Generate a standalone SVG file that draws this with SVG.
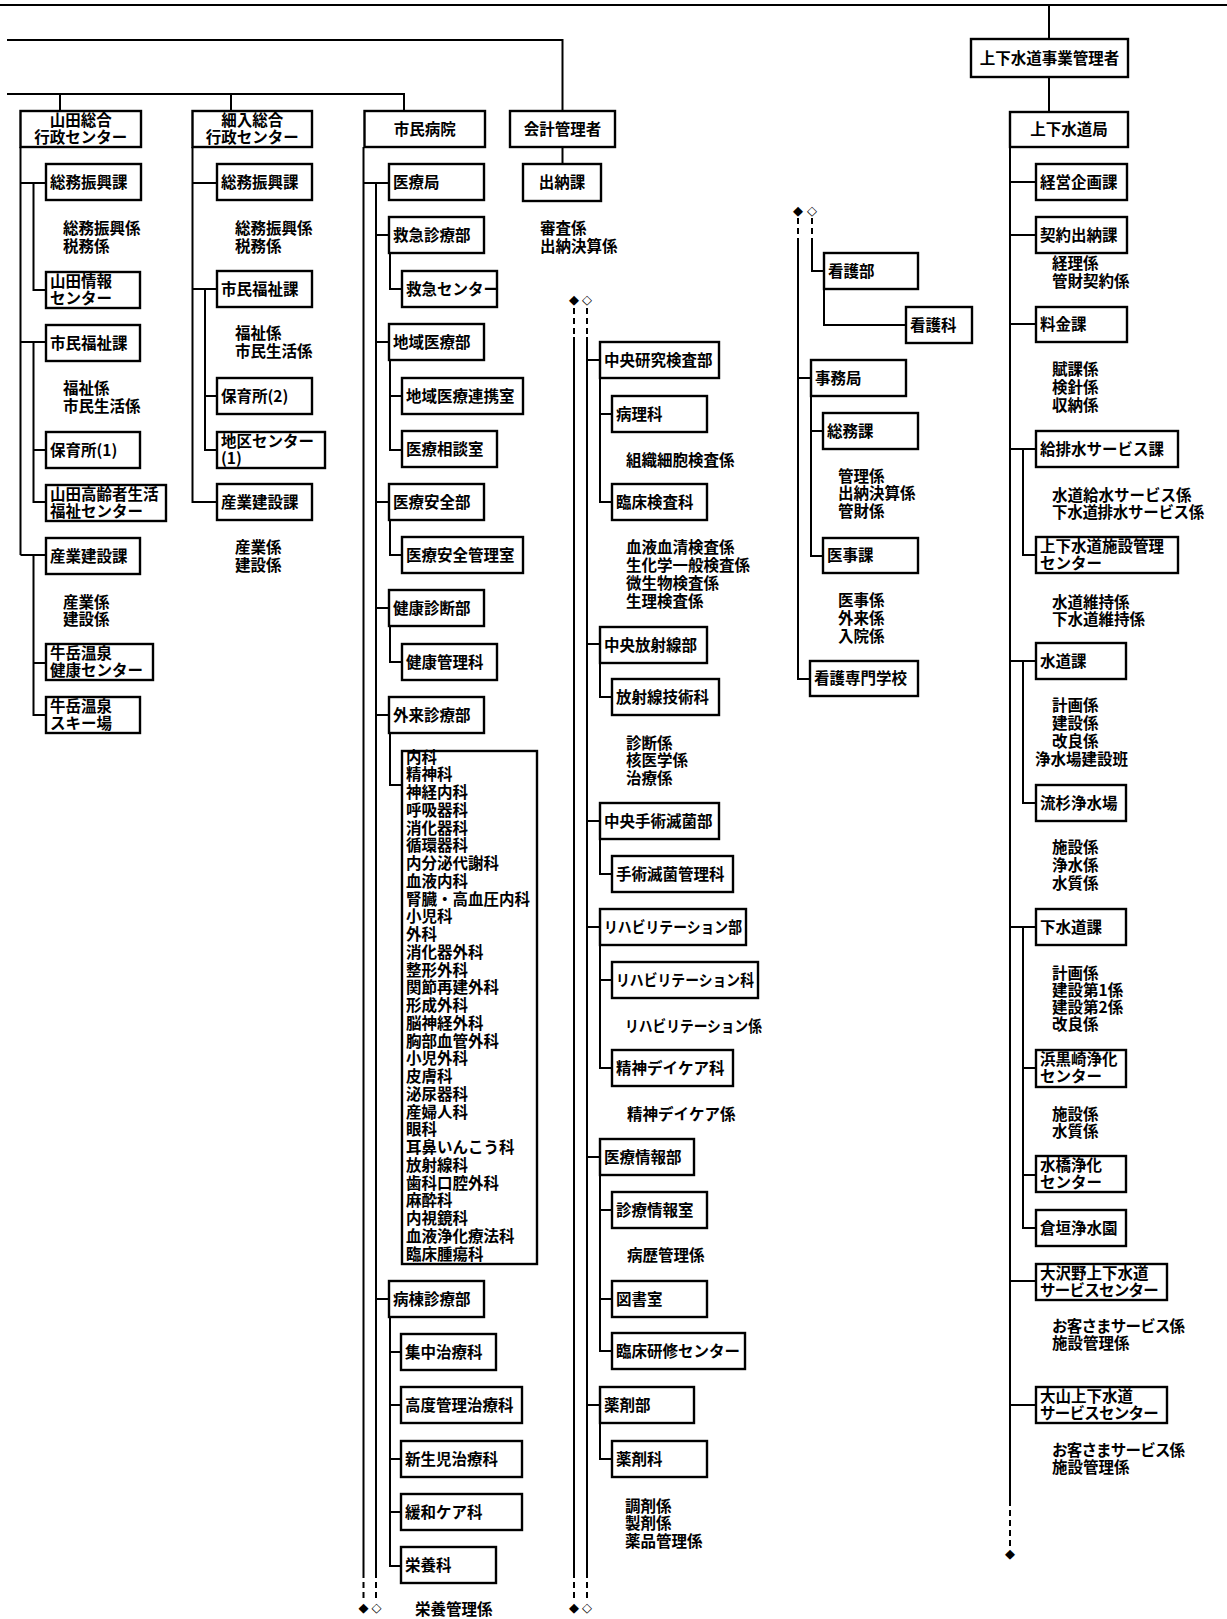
<svg xmlns="http://www.w3.org/2000/svg" width="1227" height="1619" viewBox="0 0 1227 1619">
<style>
.b{fill:#fff;stroke:#000;stroke-width:2.4}
.t{font-family:"Noto Sans CJK JP","Noto Sans CJK SC",sans-serif;font-size:15.5px;font-weight:700;fill:#000}
.c{text-anchor:middle}
.ln{stroke:#000;stroke-width:2;fill:none}
.d{stroke-dasharray:6 4}
.m{font-family:"DejaVu Sans",sans-serif;font-size:13px;text-anchor:middle;fill:#000}
.n1{letter-spacing:-0.8px}
.n2{letter-spacing:-0.75px}
</style>
<rect width="1227" height="1619" fill="#fff"/>
<g id="connectors">
<path class="ln" d="M0,5 H1227 M1049,5 V39 M1049,77 V112 M7,40 H562.5 V111 M562.5,147 V164 M7,94 H404 V111 M60,94 V111 M231,94 V111"/>
<path class="ln" d="M20.5,147 V555 M20.5,183 H46 M20.5,342 H46 M20.5,555 H46 M33.5,183 V290 H46 M33.5,342 V502 H46 M33.5,450 H46 M33.5,555 V715 H46 M33.5,663 H46"/>
<path class="ln" d="M192.5,147 V502 H217 M192.5,183 H217 M192.5,289 H217 M205,289 V450 H217 M205,396 H217"/>
<path class="ln" d="M363.5,147 V1572 M363.5,183 H389 M376,183 V1572 M376,235 H389 M376,342 H389 M376,502 H389 M376,608 H389 M376,715 H389 M376,1299 H389 M390,253 V289 H402 M390,360 V450 H402 M390,396 H402 M390,520 V555 H402 M390,627 V662 H402 M390,733 V785 H402 M390,1317 V1566 H401 M390,1352 H401 M390,1405 H401 M390,1459 H401 M390,1512 H401"/>
<path class="ln d" d="M363.5,1572 V1600 M376,1572 V1600"/>
<path class="ln d" d="M574,308 V337 M587,308 V337 M574,1572 V1600 M587,1572 V1600"/>
<path class="ln" d="M574,337 V1572 M587,337 V1572 M587,360 H600 M587,644 H600 M587,821 H600 M587,927 H600 M587,1157 H600 M587,1405 H600 M600,378 V502 H612 M600,414 H612 M600,663 V697 H612 M600,840 V874 H612 M600,945 V1068 H612 M600,980 H612 M600,1175 V1351 H612 M600,1210 H612 M600,1299 H612 M600,1423 V1459 H612"/>
<path class="ln d" d="M798,218 V240 M812,218 V240"/>
<path class="ln" d="M812,240 V271 H824 M824,289 V325 H906 M798,240 V679 H810 M798,378 H811 M811,396 V556 H823 M811,431 H823"/>
<path class="ln" d="M1010,147 V1500 M1010,182 H1036 M1010,235 H1036 M1010,324 H1036 M1010,449 H1036 M1010,661 H1036 M1010,927 H1036 M1010,1281 H1036 M1010,1405 H1036 M1023,449 V555 H1036 M1023,661 V803 H1036 M1023,927 V1228 H1036 M1023,1068 H1036 M1023,1175 H1036"/>
<path class="ln d" d="M1010,1500 V1546"/>
<text class="m" x="363.5" y="1612">◆</text><text class="m" x="376.5" y="1612">◇</text>
<text class="m" x="574" y="304">◆</text><text class="m" x="587" y="304">◇</text>
<text class="m" x="574" y="1612">◆</text><text class="m" x="587" y="1612">◇</text>
<text class="m" x="798" y="215">◆</text><text class="m" x="812" y="215">◇</text>
<text class="m" x="1010" y="1558">◆</text>
</g>

<g id="yamada">
<g id="ym-center"><rect class="b" x="20.5" y="111" width="120.5" height="36"/><text class="t c" x="80.75" y="125.5">山田総合<tspan x="80.75" dy="17">行政センター</tspan></text></g>
<g id="ym-soumu"><rect class="b" x="46" y="164" width="95" height="36"/><text class="t" x="50" y="187.5">総務振興課</text></g>
<g id="ym-joho"><rect class="b" x="46" y="272" width="94" height="36"/><text class="t" x="50" y="286.5">山田情報<tspan x="50" dy="17">センター</tspan></text></g>
<g id="ym-fukushi"><rect class="b" x="46" y="325" width="94" height="36"/><text class="t" x="50" y="348.5">市民福祉課</text></g>
<g id="ym-hoiku"><rect class="b" x="46" y="432" width="94" height="36"/><text class="t" x="50" y="455.5">保育所(1)</text></g>
<g id="ym-koreisha"><rect class="b" x="46" y="485" width="120" height="36"/><text class="t" x="50" y="499.5">山田高齢者生活<tspan x="50" dy="17">福祉センター</tspan></text></g>
<g id="ym-sangyo"><rect class="b" x="46" y="538" width="94" height="36"/><text class="t" x="50" y="561.5">産業建設課</text></g>
<g id="ym-gyugaku1"><rect class="b" x="46" y="644" width="107" height="36"/><text class="t" x="50" y="658.5">牛岳温泉<tspan x="50" dy="17">健康センター</tspan></text></g>
<g id="ym-gyugaku2"><rect class="b" x="46" y="697" width="94" height="36"/><text class="t" x="50" y="711.5">牛岳温泉<tspan x="50" dy="17">スキー場</tspan></text></g>
<text class="t" x="63" y="233.5">総務振興係<tspan x="63" dy="18">税務係</tspan></text>
<text class="t" x="63" y="393.5">福祉係<tspan x="63" dy="18">市民生活係</tspan></text>
<text class="t" x="63" y="607.5">産業係<tspan x="63" dy="17">建設係</tspan></text>
</g>

<g id="hosoiri">
<g id="hs-center"><rect class="b" x="192.5" y="111" width="119.5" height="36"/><text class="t c" x="252.25" y="125.5">細入総合<tspan x="252.25" dy="17">行政センター</tspan></text></g>
<g id="hs-soumu"><rect class="b" x="217" y="164" width="95" height="36"/><text class="t" x="221" y="187.5">総務振興課</text></g>
<g id="hs-fukushi"><rect class="b" x="217" y="271" width="95" height="36"/><text class="t" x="221" y="294.5">市民福祉課</text></g>
<g id="hs-hoiku"><rect class="b" x="217" y="378" width="95" height="36"/><text class="t" x="221" y="401.5">保育所(2)</text></g>
<g id="hs-chiku"><rect class="b" x="217" y="432" width="108" height="36"/><text class="t" x="221" y="446.5">地区センター<tspan x="221" dy="17">(1)</tspan></text></g>
<g id="hs-sangyo"><rect class="b" x="217" y="484" width="95" height="36"/><text class="t" x="221" y="507.5">産業建設課</text></g>
<text class="t" x="235" y="233.5">総務振興係<tspan x="235" dy="18">税務係</tspan></text>
<text class="t" x="235" y="338.5">福祉係<tspan x="235" dy="18">市民生活係</tspan></text>
<text class="t" x="235" y="552.5">産業係<tspan x="235" dy="18">建設係</tspan></text>
</g>

<g id="kaikei">
<g id="kaikei-kanrisha"><rect class="b" x="510" y="111" width="105" height="36"/><text class="t c" x="562.5" y="134.5">会計管理者</text></g>
<g id="suitouka"><rect class="b" x="523" y="164" width="78" height="37"/><text class="t c" x="562" y="188">出納課</text></g>
<text class="t" x="540" y="233.5">審査係<tspan x="540" dy="18">出納決算係</tspan></text>
</g>

<g id="hospital">
<g id="hp-main"><rect class="b" x="364.5" y="111" width="120.5" height="36"/><text class="t c" x="424.75" y="134.5">市民病院</text></g>
<g id="hp-iryokyoku"><rect class="b" x="389" y="164" width="95" height="36"/><text class="t" x="393" y="187.5">医療局</text></g>
<g id="hp-kyukyu"><rect class="b" x="389" y="217" width="95" height="36"/><text class="t" x="393" y="240.5">救急診療部</text></g>
<g id="hp-kyukyu-c"><rect class="b" x="402" y="271" width="95" height="36"/><text class="t" x="406" y="294.5">救急センター</text></g>
<g id="hp-chiiki"><rect class="b" x="389" y="324" width="95" height="36"/><text class="t" x="393" y="347.5">地域医療部</text></g>
<g id="hp-renkei"><rect class="b" x="402" y="378" width="121" height="36"/><text class="t" x="406" y="401.5">地域医療連携室</text></g>
<g id="hp-sodan"><rect class="b" x="402" y="431" width="95" height="36"/><text class="t" x="406" y="454.5">医療相談室</text></g>
<g id="hp-anzen"><rect class="b" x="389" y="484" width="95" height="36"/><text class="t" x="393" y="507.5">医療安全部</text></g>
<g id="hp-anzen-k"><rect class="b" x="402" y="537" width="121" height="36"/><text class="t" x="406" y="560.5">医療安全管理室</text></g>
<g id="hp-kenshin"><rect class="b" x="389" y="590" width="95" height="36"/><text class="t" x="393" y="613.5">健康診断部</text></g>
<g id="hp-kenko"><rect class="b" x="402" y="644" width="95" height="36"/><text class="t" x="406" y="667.5">健康管理科</text></g>
<g id="hp-gairai"><rect class="b" x="389" y="697" width="95" height="36"/><text class="t" x="393" y="720.5">外来診療部</text></g>
<g id="hp-list"><rect class="b" x="402" y="751" width="135" height="513"/>
<text class="t" x="406" y="762.5">内科<tspan x="406" dy="17.75">精神科</tspan><tspan x="406" dy="17.75">神経内科</tspan><tspan x="406" dy="17.75">呼吸器科</tspan><tspan x="406" dy="17.75">消化器科</tspan><tspan x="406" dy="17.75">循環器科</tspan><tspan x="406" dy="17.75">内分泌代謝科</tspan><tspan x="406" dy="17.75">血液内科</tspan><tspan x="406" dy="17.75">腎臓・高血圧内科</tspan><tspan x="406" dy="17.75">小児科</tspan><tspan x="406" dy="17.75">外科</tspan><tspan x="406" dy="17.75">消化器外科</tspan><tspan x="406" dy="17.75">整形外科</tspan><tspan x="406" dy="17.75">関節再建外科</tspan><tspan x="406" dy="17.75">形成外科</tspan><tspan x="406" dy="17.75">脳神経外科</tspan><tspan x="406" dy="17.75">胸部血管外科</tspan><tspan x="406" dy="17.75">小児外科</tspan><tspan x="406" dy="17.75">皮膚科</tspan><tspan x="406" dy="17.75">泌尿器科</tspan><tspan x="406" dy="17.75">産婦人科</tspan><tspan x="406" dy="17.75">眼科</tspan><tspan x="406" dy="17.75">耳鼻いんこう科</tspan><tspan x="406" dy="17.75">放射線科</tspan><tspan x="406" dy="17.75">歯科口腔外科</tspan><tspan x="406" dy="17.75">麻酔科</tspan><tspan x="406" dy="17.75">内視鏡科</tspan><tspan x="406" dy="17.75">血液浄化療法科</tspan><tspan x="406" dy="17.75">臨床腫瘍科</tspan></text>
</g>
<g id="hp-byoto"><rect class="b" x="389" y="1281" width="95" height="36"/><text class="t" x="393" y="1304.5">病棟診療部</text></g>
<g id="hp-shuchu"><rect class="b" x="401" y="1334" width="95" height="36"/><text class="t" x="405" y="1357.5">集中治療科</text></g>
<g id="hp-kodo"><rect class="b" x="401" y="1387" width="121" height="36"/><text class="t" x="405" y="1410.5">高度管理治療科</text></g>
<g id="hp-shinsei"><rect class="b" x="401" y="1441" width="121" height="36"/><text class="t" x="405" y="1464.5">新生児治療科</text></g>
<g id="hp-kanwa"><rect class="b" x="401" y="1494" width="121" height="36"/><text class="t" x="405" y="1517.5">緩和ケア科</text></g>
<g id="hp-eiyo"><rect class="b" x="401" y="1547" width="95" height="36"/><text class="t" x="405" y="1570.5">栄養科</text></g>
<text class="t" x="415" y="1615">栄養管理係</text>

<g id="c2-kenkyu"><rect class="b" x="600" y="342" width="119" height="36"/><text class="t" x="604" y="365.5">中央研究検査部</text></g>
<g id="c2-byori"><rect class="b" x="612" y="396" width="95" height="36"/><text class="t" x="616" y="419.5">病理科</text></g>
<g id="c2-rinsho"><rect class="b" x="612" y="484" width="95" height="36"/><text class="t" x="616" y="507.5">臨床検査科</text></g>
<text class="t" x="626" y="465.5">組織細胞検査係</text>
<text class="t" x="626" y="552.5">血液血清検査係<tspan x="626" dy="18">生化学一般検査係</tspan><tspan x="626" dy="18">微生物検査係</tspan><tspan x="626" dy="18">生理検査係</tspan></text>
<g id="c2-hoshasen"><rect class="b" x="600" y="627" width="107" height="36"/><text class="t" x="604" y="650.5">中央放射線部</text></g>
<g id="c2-gijutsu"><rect class="b" x="612" y="679" width="107" height="36"/><text class="t" x="616" y="702.5">放射線技術科</text></g>
<text class="t" x="626" y="748.5">診断係<tspan x="626" dy="17.5">核医学係</tspan><tspan x="626" dy="17.5">治療係</tspan></text>
<g id="c2-shujutsu"><rect class="b" x="600" y="803" width="119" height="36"/><text class="t" x="604" y="826.5">中央手術滅菌部</text></g>
<g id="c2-mekkin"><rect class="b" x="612" y="856" width="121" height="36"/><text class="t" x="616" y="879.5">手術滅菌管理科</text></g>
<g id="c2-riha"><rect class="b" x="600" y="909" width="146" height="36"/><text class="t" x="604" y="932.5" textLength="138" lengthAdjust="spacingAndGlyphs">リハビリテーション部</text></g>
<g id="c2-riha-k"><rect class="b" x="612" y="962" width="146" height="36"/><text class="t" x="616" y="985.5" textLength="138" lengthAdjust="spacingAndGlyphs">リハビリテーション科</text></g>
<text class="t" x="625" y="1031.5" textLength="137" lengthAdjust="spacingAndGlyphs">リハビリテーション係</text>
<g id="c2-dayc"><rect class="b" x="612" y="1050" width="121" height="36"/><text class="t" x="616" y="1073.5">精神デイケア科</text></g>
<text class="t" x="627" y="1119.5">精神デイケア係</text>
<g id="c2-joho"><rect class="b" x="600" y="1139" width="94" height="36"/><text class="t" x="604" y="1162.5">医療情報部</text></g>
<g id="c2-shinryo"><rect class="b" x="612" y="1192" width="95" height="36"/><text class="t" x="616" y="1215.5">診療情報室</text></g>
<text class="t" x="627" y="1260.5">病歴管理係</text>
<g id="c2-tosho"><rect class="b" x="612" y="1281" width="95" height="36"/><text class="t" x="616" y="1304.5">図書室</text></g>
<g id="c2-kenshu"><rect class="b" x="612" y="1333" width="133" height="36"/><text class="t" x="616" y="1356.5">臨床研修センター</text></g>
<g id="c2-yakuzai"><rect class="b" x="600" y="1387" width="94" height="36"/><text class="t" x="604" y="1410.5">薬剤部</text></g>
<g id="c2-yakuzai-k"><rect class="b" x="612" y="1441" width="95" height="36"/><text class="t" x="616" y="1464.5">薬剤科</text></g>
<text class="t" x="625" y="1511.5">調剤係<tspan x="625" dy="17.5">製剤係</tspan><tspan x="625" dy="17.5">薬品管理係</tspan></text>

<g id="c3-kango"><rect class="b" x="824" y="253" width="94" height="36"/><text class="t" x="828" y="276.5">看護部</text></g>
<g id="c3-kango-k"><rect class="b" x="906" y="307" width="66" height="36"/><text class="t" x="910" y="330.5">看護科</text></g>
<g id="c3-jimu"><rect class="b" x="811" y="360" width="95" height="36"/><text class="t" x="815" y="383.5">事務局</text></g>
<g id="c3-soumu"><rect class="b" x="823" y="413" width="95" height="36"/><text class="t" x="827" y="436.5">総務課</text></g>
<text class="t" x="838" y="481.5">管理係<tspan x="838" dy="17.5">出納決算係</tspan><tspan x="838" dy="17.5">管財係</tspan></text>
<g id="c3-iji"><rect class="b" x="823" y="538" width="95" height="35"/><text class="t" x="827" y="561">医事課</text></g>
<text class="t" x="838" y="605.5">医事係<tspan x="838" dy="18">外来係</tspan><tspan x="838" dy="18">入院係</tspan></text>
<g id="c3-school"><rect class="b" x="810" y="661" width="108" height="35"/><text class="t" x="814" y="684">看護専門学校</text></g>
</g>

<g id="water">
<g id="w-kanrisha"><rect class="b" x="971" y="39" width="157" height="38"/><text class="t c" x="1049.5" y="63.5">上下水道事業管理者</text></g>
<g id="w-kyoku"><rect class="b" x="1010" y="112" width="118" height="35"/><text class="t c" x="1069" y="135">上下水道局</text></g>
<g id="w-keiei"><rect class="b" x="1036" y="164" width="91" height="36"/><text class="t" x="1040" y="187.5">経営企画課</text></g>
<g id="w-keiyaku"><rect class="b" x="1036" y="217" width="91" height="36"/><text class="t" x="1040" y="240.5">契約出納課</text></g>
<text class="t" x="1052" y="268.5">経理係<tspan x="1052" dy="18.5">管財契約係</tspan></text>
<g id="w-ryokin"><rect class="b" x="1036" y="307" width="91" height="35"/><text class="t" x="1040" y="330">料金課</text></g>
<text class="t" x="1052" y="374.5">賦課係<tspan x="1052" dy="18">検針係</tspan><tspan x="1052" dy="18">収納係</tspan></text>
<g id="w-kyuhai"><rect class="b" x="1036" y="431" width="142" height="36"/><text class="t" x="1040" y="454.5">給排水サービス課</text></g>
<text class="t" x="1052" y="501">水道給水サービス係<tspan x="1052" dy="17" class="n1" style="letter-spacing:-0.3px">下水道排水サービス係</tspan></text>
<g id="w-shisetsu"><rect class="b" x="1036" y="537" width="142" height="36"/><text class="t" x="1040" y="551.5">上下水道施設管理<tspan x="1040" dy="17">センター</tspan></text></g>
<text class="t" x="1052" y="607.5">水道維持係<tspan x="1052" dy="17">下水道維持係</tspan></text>
<g id="w-suido"><rect class="b" x="1036" y="643" width="90" height="36"/><text class="t" x="1040" y="666.5">水道課</text></g>
<text class="t" x="1052" y="710.5">計画係<tspan x="1052" dy="18">建設係</tspan><tspan x="1052" dy="18">改良係</tspan><tspan x="1035" dy="18">浄水場建設班</tspan></text>
<g id="w-nagare"><rect class="b" x="1036" y="785" width="90" height="36"/><text class="t" x="1040" y="808.5">流杉浄水場</text></g>
<text class="t" x="1052" y="852.5">施設係<tspan x="1052" dy="18">浄水係</tspan><tspan x="1052" dy="18">水質係</tspan></text>
<g id="w-gesui"><rect class="b" x="1036" y="909" width="90" height="36"/><text class="t" x="1040" y="932.5">下水道課</text></g>
<text class="t" x="1052" y="978.5">計画係<tspan x="1052" dy="17.3">建設第1係</tspan><tspan x="1052" dy="17.3">建設第2係</tspan><tspan x="1052" dy="17.3">改良係</tspan></text>
<g id="w-hama"><rect class="b" x="1036" y="1050" width="90" height="37"/><text class="t" x="1040" y="1064.5">浜黒崎浄化<tspan x="1040" dy="17">センター</tspan></text></g>
<text class="t" x="1052" y="1119.5">施設係<tspan x="1052" dy="17">水質係</tspan></text>
<g id="w-mizuhashi"><rect class="b" x="1036" y="1156" width="90" height="36"/><text class="t" x="1040" y="1170.5">水橋浄化<tspan x="1040" dy="17">センター</tspan></text></g>
<g id="w-kuragaki"><rect class="b" x="1036" y="1210" width="90" height="36"/><text class="t" x="1040" y="1233.5">倉垣浄水園</text></g>
<g id="w-osawano"><rect class="b" x="1036" y="1264" width="131" height="36"/><text class="t" x="1040" y="1278.5">大沢野上下水道<tspan x="1040" dy="17" class="n2">サービスセンター</tspan></text></g>
<text class="t" x="1052" y="1331.5"><tspan class="n1">お客さまサービス係</tspan><tspan x="1052" dy="17">施設管理係</tspan></text>
<g id="w-oyama"><rect class="b" x="1036" y="1387" width="131" height="36"/><text class="t" x="1040" y="1401.5">大山上下水道<tspan x="1040" dy="17" class="n2">サービスセンター</tspan></text></g>
<text class="t" x="1052" y="1455.5"><tspan class="n1">お客さまサービス係</tspan><tspan x="1052" dy="17">施設管理係</tspan></text>
</g>
</svg>
